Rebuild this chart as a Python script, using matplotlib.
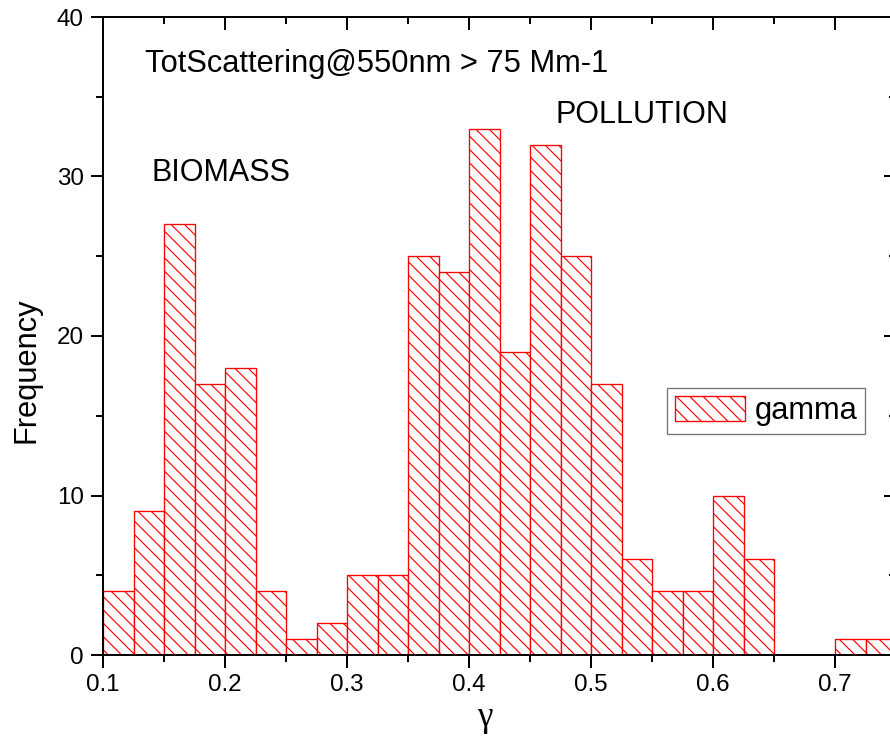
"""Histogram of the scattering exponent gamma for high-scattering events."""

import matplotlib
matplotlib.use("Agg")
import matplotlib.pyplot as plt
from matplotlib.ticker import MultipleLocator
import numpy as np

# bin layout (width 0.025, starting at 0.1)
BIN_START = 0.1
BIN_WIDTH = 0.025
counts = [4, 9, 27, 17, 18, 4, 1, 2, 5, 5, 25, 24, 33, 19, 32, 25, 17, 6, 4, 4,
          10, 6, 0, 0, 1, 1]
series_name = "gamma"
title_text = "TotScattering@550nm > 75 Mm-1"
annotations = [("BIOMASS", 0.140, 29.7), ("POLLUTION", 0.4705, 33.35)]

plt.rcParams["font.family"] = ["Liberation Sans", "DejaVu Sans"]
plt.rcParams["hatch.linewidth"] = 0.7

DPI = 120
fig = plt.figure(figsize=(890 / DPI, 747 / DPI), dpi=DPI)
# axes run a bit past the right edge of the picture, like the cropped original
ax = fig.add_axes([103 / 890, 92 / 747, 793 / 890, 638 / 747])

lefts = BIN_START + BIN_WIDTH * np.arange(len(counts))
ax.bar(lefts, counts, width=BIN_WIDTH, align="edge", facecolor="white",
       edgecolor="red", linewidth=0.8, hatch="\\\\\\", label=series_name)

ax.set_xlim(0.1, 0.75)
ax.set_ylim(0, 40)
ax.xaxis.set_major_locator(MultipleLocator(0.1))
ax.xaxis.set_minor_locator(MultipleLocator(0.05))
ax.yaxis.set_major_locator(MultipleLocator(10))
ax.yaxis.set_minor_locator(MultipleLocator(5))

for side in ax.spines.values():
    side.set_linewidth(1.2)

ax.tick_params(axis="both", which="major", direction="out", length=7.5,
               width=1.2, labelsize=14.5, pad=4)
ax.tick_params(axis="both", which="minor", direction="out", length=4, width=1.2)
# mirrored ticks on top / right point inward
ax.tick_params(axis="both", which="both", top=True, right=True)
ax.xaxis.set_tick_params(which="both", labeltop=False)
ax.yaxis.set_tick_params(which="both", labelright=False)
for t in ax.xaxis.get_major_ticks() + ax.xaxis.get_minor_ticks():
    t.tick2line.set_marker(3)  # TICKDOWN
for t in ax.yaxis.get_major_ticks() + ax.yaxis.get_minor_ticks():
    t.tick2line.set_marker(0)  # TICKLEFT

ax.text(0.1344, 36.55, title_text, fontsize=18.5, va="baseline", ha="left")
for name, xx, yy in annotations:
    ax.text(xx, yy, name, fontsize=18.3, va="baseline", ha="left")

fig.text(27 / 890, 1 - 370 / 747, "Frequency", rotation=90, fontsize=18.5,
         ha="center", va="center")
fig.text(485 / 890, 1 - 718 / 747, "\u03b3", fontsize=21,
         family=["Liberation Serif", "DejaVu Serif"], ha="center", va="center")

leg = ax.legend(loc="center", bbox_to_anchor=(766 / 890, 1 - 411 / 747),
                bbox_transform=fig.transFigure, fontsize=18.5, fancybox=False,
                handlelength=2.3, handleheight=0.9, handletextpad=0.3,
                borderpad=0.25, borderaxespad=0)
leg.get_frame().set_edgecolor("#555555")
leg.get_frame().set_linewidth(0.8)

fig.savefig("out.png", dpi=DPI)
